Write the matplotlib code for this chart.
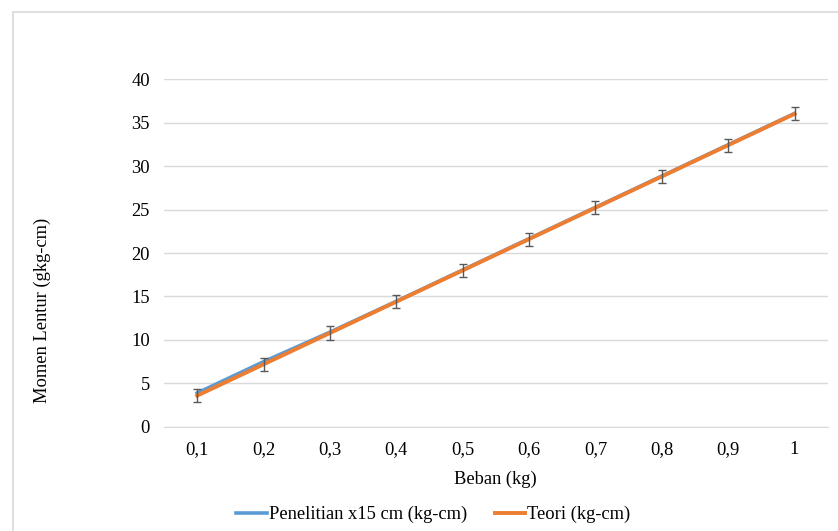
import matplotlib.pyplot as plt
from matplotlib.patches import Rectangle

plt.rcParams["font.family"] = ["Liberation Serif", "DejaVu Serif"]

beban = ["0,1", "0,2", "0,3", "0,4", "0,5", "0,6", "0,7", "0,8", "0,9", "1"]
penelitian = [3.9, 7.5, 10.9, 14.45, 18.05, 21.65, 25.25, 28.85, 32.45, 36.05]
teori = [3.6, 7.2, 10.8, 14.4, 18.0, 21.6, 25.2, 28.8, 32.4, 36.0]
err = [0.75] * 10

FONT_SIZE = 13.3

fig = plt.figure(figsize=(8.38, 5.31), dpi=100)
ax = fig.add_axes([0.1957, 0.196, 0.792, 0.655])

# chart border (Excel-style, cut off at right/bottom)
fig.patches.append(Rectangle((12.5 / 838, -0.1), 2, 1 - 11.5 / 531 + 0.1,
                             transform=fig.transFigure, fill=False,
                             edgecolor="#d9d9d9", linewidth=1.2))

x = list(range(len(beban)))
ax.plot(x, penelitian, color="#5B9BD5", linewidth=2.6, label="Penelitian x15 cm (kg-cm)", zorder=3)
ax.plot(x, teori, color="#ED7D31", linewidth=2.8, label="Teori (kg-cm)", zorder=4)
ax.errorbar(x, teori, yerr=err, fmt="none", ecolor="#595959", elinewidth=1.0,
            capsize=3, capthick=1.0, zorder=5)

ax.set_xlim(-0.5, 9.5)
ax.set_ylim(0, 40)
ax.set_yticks(range(0, 41, 5))
ax.set_xticks(x)
ax.set_xticklabels(beban)
ax.tick_params(axis="both", length=0, labelsize=FONT_SIZE)
ax.tick_params(axis="x", pad=10)
ax.tick_params(axis="y", pad=10)

for side in ["top", "right", "left"]:
    ax.spines[side].set_visible(False)
ax.spines["bottom"].set_color("#d9d9d9")
ax.grid(axis="y", color="#d9d9d9", linewidth=1.0)
ax.set_axisbelow(True)

ax.set_xlabel("Beban (kg)", fontsize=FONT_SIZE, labelpad=9)
ax.set_ylabel("Momen Lentur (gkg-cm)", fontsize=FONT_SIZE, va="center")
ax.yaxis.set_label_coords(-0.184, 0.336)

fig.legend(loc="center", bbox_to_anchor=(0.517, 0.031), ncol=2, frameon=False,
           fontsize=FONT_SIZE, handlelength=1.65, handletextpad=0.1, columnspacing=1.5)

fig.savefig("out.png", dpi=100)
